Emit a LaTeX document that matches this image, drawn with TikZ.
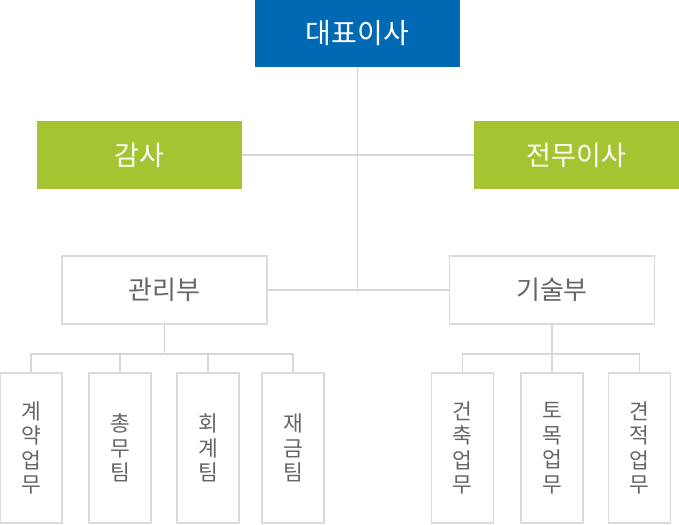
\documentclass[tikz,border=0pt]{standalone}
\usepackage{fontspec}
\setmainfont{Noto Sans CJK KR}
\definecolor{topblue}{HTML}{0069B4}
\definecolor{leafgreen}{HTML}{A4C431}
\definecolor{linegray}{HTML}{D6D6DC}
\definecolor{boxgray}{HTML}{DADADF}
\definecolor{txtgray}{HTML}{666666}
\tikzset{
  topbox/.style={rectangle, fill=topblue, text=white, minimum width=205pt, minimum height=67pt, inner sep=0pt, font=\fontsize{28}{32}\selectfont},
  greenbox/.style={rectangle, fill=leafgreen, text=white, minimum width=205pt, minimum height=68pt, inner sep=0pt, font=\fontsize{27}{32}\selectfont},
  deptbox/.style={rectangle, draw=boxgray, line width=1.3pt, fill=white, text=txtgray, minimum width=205pt, minimum height=68pt, inner sep=0pt, font=\fontsize{26}{30}\selectfont},
  teambox/.style={rectangle, draw=boxgray, line width=1.3pt, fill=white, text=txtgray, minimum width=62pt, minimum height=150pt, inner sep=0pt, align=center, font=\fontsize{21.5}{24.5}\selectfont},
  conn/.style={draw=linegray, line width=1.5pt}
}
\begin{document}
\begin{tikzpicture}[x=1pt,y=-1pt]
\useasboundingbox (0,0) rectangle (679,524);
\coordinate (mid) at (357.5,290);
\coordinate (lbus) at (164.5,354);
\coordinate (rbus) at (552,354);
\node[topbox] (ceo) at (357.5,33.5) {대표이사};
\node[greenbox] (audit) at (139.5,155) {감사};
\node[greenbox] (exec) at (576.5,155) {전무이사};
\node[deptbox] (mgmt) at (164.5,290) {관리부};
\node[deptbox] (tech) at (552,290) {기술부};
\node[teambox] (t1) at (31,448) {계\\약\\업\\무};
\node[teambox] (t2) at (120,448) {총\\무\\팀};
\node[teambox] (t3) at (208,448) {회\\계\\팀};
\node[teambox] (t4) at (293,448) {재\\금\\팀};
\node[teambox] (r1) at (462.5,448) {건\\축\\업\\무};
\node[teambox] (r2) at (552,448) {토\\목\\업\\무};
\node[teambox] (r3) at (639.5,448) {견\\적\\업\\무};
\draw[conn] (ceo.south) -- (mid);
\draw[conn] (audit.east) -- (exec.west);
\draw[conn] (mgmt.east) -- (tech.west);
\draw[conn] (mgmt.south) -- (lbus);
\draw[conn] (t1.north) -- (t1.north |- lbus) -- (t4.north |- lbus) -- (t4.north);
\draw[conn] (t2.north) -- (t2.north |- lbus);
\draw[conn] (t3.north) -- (t3.north |- lbus);
\draw[conn] (tech.south) -- (rbus);
\draw[conn] (r1.north) -- (r1.north |- rbus) -- (r3.north |- rbus) -- (r3.north);
\draw[conn] (r2.north) -- (r2.north |- rbus);
\end{tikzpicture}
\end{document}
